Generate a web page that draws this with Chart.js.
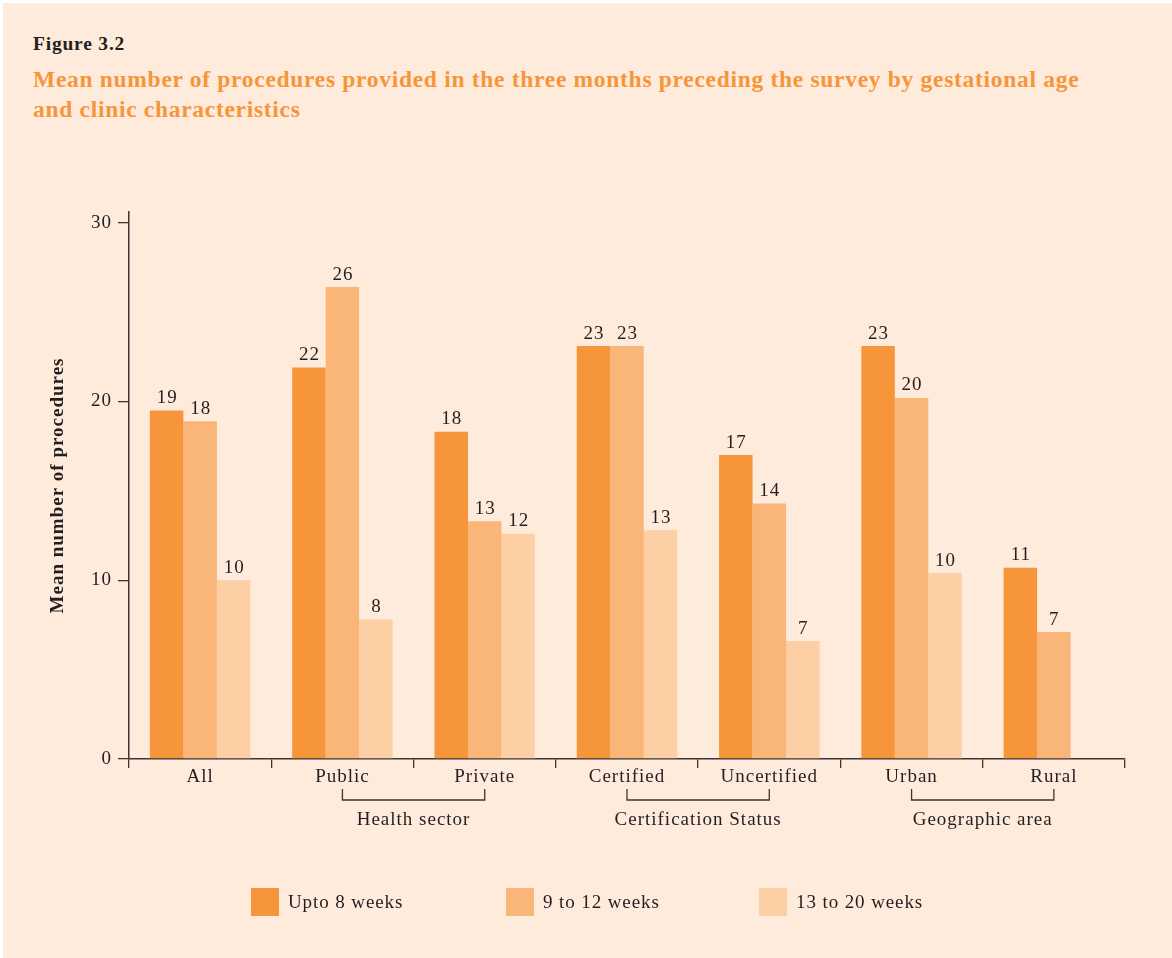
<!DOCTYPE html>
<html>
<head>
<meta charset="utf-8">
<script src="https://cdn.jsdelivr.net/npm/chart.js@4.4.0/dist/chart.umd.min.js"></script>
<style>
  body { margin: 0; background: #ffffff; }
  #page { position: absolute; left: 3px; top: 3px; width: 1169px; height: 955px; background: #feebdb; }
  #fig { position: absolute; left: 30px; top: 30px; font: bold 19.5px "Liberation Serif", serif; color: #231f20; letter-spacing: 0.8px; }
  #title { position: absolute; left: 30px; top: 61px; width: 1075px; font: bold 23.5px/30px "Liberation Serif", serif; color: #f7953a; letter-spacing: 0.7px; }
  #wrap { position: absolute; left: 0; top: 127px; width: 1172px; height: 828px; }
  #legend { position: absolute; top: 888px; left: 0; width: 1172px; height: 30px; }
  .item { position: absolute; top: 0; font: 19px "Liberation Serif", serif; color: #231f20; }
  .item span.box { position: absolute; left: 0; top: 0; width: 28px; height: 28px; }
  .item span.txt { position: absolute; left: 37px; top: 3px; white-space: nowrap; letter-spacing: 0.9px; }
</style>
</head>
<body>
<div id="page">
  <div id="fig">Figure 3.2</div>
  <div id="title">Mean number of procedures provided in the three months preceding the survey by gestational age and clinic characteristics</div>
</div>
<div id="wrap"><canvas id="chart"></canvas></div>
<div id="legend"></div>
<script>
var categories = ["All", "Public", "Private", "Certified", "Uncertified", "Urban", "Rural"];
var upto8 = [19.5, 21.9, 18.3, 23.1, 17.0, 23.1, 10.7];
var wk9to12 = [18.9, 26.4, 13.3, 23.1, 14.3, 20.2, 7.1];
var wk13to20 = [10.0, 7.8, 12.6, 12.8, 6.6, 10.4, null];
var upto8Labels = ["19", "22", "18", "23", "17", "23", "11"];
var wk9to12Labels = ["18", "26", "13", "23", "14", "20", "7"];
var wk13to20Labels = ["10", "8", "12", "13", "7", "10", ""];
var seriesNames = ["Upto 8 weeks", "9 to 12 weeks", "13 to 20 weeks"];
var seriesColors = ["#f7953a", "#fab679", "#fdcfa5"];
var groups = [
  { label: "Health sector", from: 1, to: 2 },
  { label: "Certification Status", from: 3, to: 4 },
  { label: "Geographic area", from: 5, to: 6 }
];
var yTicks = [0, 10, 20, 30];

var ink = "#3b3536";
var serif = "'Liberation Serif', serif";

// the book font is wider than Liberation, so space the canvas text out a bit
var spacing = {
  id: "spacing",
  beforeLayout: function(chart) { chart.ctx.letterSpacing = "1px"; },
  beforeDraw: function(chart) { chart.ctx.letterSpacing = "1px"; }
};

// numbers on top of bars
var barLabels = {
  id: "barLabels",
  afterDatasetsDraw: function(chart) {
    var ctx = chart.ctx;
    ctx.save();
    ctx.font = "19px " + serif;
    ctx.fillStyle = "#231f20";
    ctx.textAlign = "center";
    ctx.textBaseline = "bottom";
    chart.data.datasets.forEach(function(ds, i) {
      var meta = chart.getDatasetMeta(i);
      meta.data.forEach(function(bar, j) {
        if (ds.data[j] == null) return;
        ctx.fillText(ds.valueLabels[j], bar.x + 0.5, bar.y - 3);
      });
    });
    ctx.restore();
  }
};

// brackets under the category labels
var brackets = {
  id: "brackets",
  afterDraw: function(chart) {
    var ctx = chart.ctx;
    var x = chart.scales.x;
    var yTop = chart.chartArea.bottom + 30;
    var yBot = yTop + 11;
    ctx.save();
    ctx.strokeStyle = ink;
    ctx.lineWidth = 1.3;
    ctx.font = "19px " + serif;
    ctx.fillStyle = "#231f20";
    ctx.textAlign = "center";
    ctx.textBaseline = "middle";
    groups.forEach(function(g) {
      var x1 = x.getPixelForValue(g.from);
      var x2 = x.getPixelForValue(g.to);
      ctx.beginPath();
      ctx.moveTo(x1, yTop);
      ctx.lineTo(x1, yBot);
      ctx.lineTo(x2, yBot);
      ctx.lineTo(x2, yTop);
      ctx.stroke();
      ctx.fillText(g.label, (x1 + x2) / 2, yBot + 20);
    });
    ctx.restore();
  }
};

var seriesData = [upto8, wk9to12, wk13to20];
var seriesLabels = [upto8Labels, wk9to12Labels, wk13to20Labels];
var datasets = seriesNames.map(function(name, i) {
  return {
    label: name,
    data: seriesData[i],
    valueLabels: seriesLabels[i],
    backgroundColor: seriesColors[i],
    borderWidth: 0,
    barPercentage: 1.0,
    categoryPercentage: 0.706
  };
});

Chart.defaults.font.family = serif;
Chart.defaults.font.size = 19;
Chart.defaults.color = "#231f20";

var chart = new Chart(document.getElementById("chart"), {
  type: "bar",
  data: { labels: categories, datasets: datasets },
  options: {
    responsive: true,
    maintainAspectRatio: false,
    animation: false,
    layout: { padding: { left: 0, right: 47, top: 85, bottom: 0 } },
    plugins: {
      legend: { display: false },
      tooltip: { enabled: false }
    },
    scales: {
      x: {
        grid: { offset: true, drawOnChartArea: false, tickLength: 9, color: ink, lineWidth: 1.3 },
        border: { color: ink, width: 1.5 },
        ticks: { padding: -2, color: "#231f20", font: { size: 19 } },
        afterFit: function(scale) { scale.height = 828 - 632; }
      },
      y: {
        min: 0,
        max: 30.6,
        afterBuildTicks: function(scale) {
          scale.ticks = yTicks.map(function(v) { return { value: v }; });
        },
        grid: { drawOnChartArea: false, tickLength: 11, color: ink, lineWidth: 1.3 },
        border: { color: ink, width: 1.5 },
        ticks: { padding: 6, color: "#231f20", font: { size: 19 } },
        title: {
          display: true,
          text: "Mean number of procedures",
          font: { size: 19, weight: "bold" },
          color: "#231f20",
          padding: { top: 47, bottom: 0 }
        },
        afterFit: function(scale) { scale.width = 129; }
      }
    }
  },
  plugins: [spacing, barLabels, brackets]
});

// legend built from the same series arrays
var legend = document.getElementById("legend");
var legendX = [251, 506, 759];
seriesNames.forEach(function(name, i) {
  var item = document.createElement("div");
  item.className = "item";
  item.style.left = legendX[i] + "px";
  item.innerHTML = '<span class="box" style="background:' + seriesColors[i] + '"></span><span class="txt">' + name + '</span>';
  legend.appendChild(item);
});
</script>
</body>
</html>
